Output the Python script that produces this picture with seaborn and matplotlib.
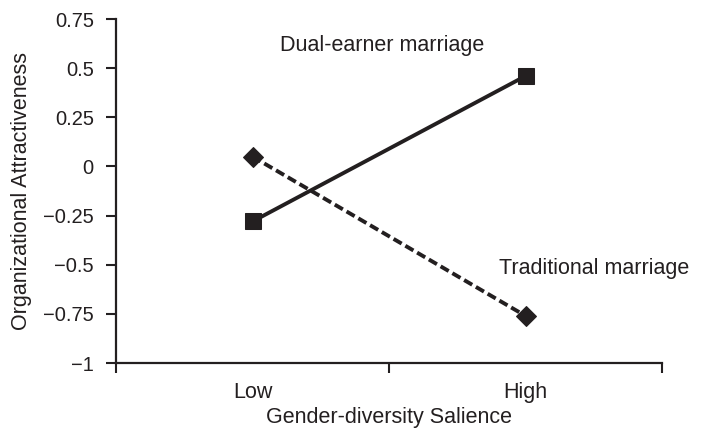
import matplotlib
matplotlib.use("Agg")
import matplotlib.pyplot as plt
import seaborn as sns
import pandas as pd
from matplotlib.ticker import FixedLocator

categories = ["Low", "High"]
dual_values = [-0.28, 0.46]
trad_values = [0.05, -0.76]
series_names = ["Dual-earner marriage", "Traditional marriage"]
y_ticks = [-1, -0.75, -0.5, -0.25, 0, 0.25, 0.5, 0.75]
y_tick_labels = ["\u22121", "\u22120.75", "\u22120.5", "\u22120.25", "0", "0.25", "0.5", "0.75"]

df = pd.DataFrame({
    "Salience": categories * 2,
    "Attractiveness": dual_values + trad_values,
    "Marriage": [series_names[0]] * 2 + [series_names[1]] * 2,
})

sns.set_theme(style="white")
plt.rcParams["font.family"] = ["Liberation Sans", "DejaVu Sans"]

INK = "#231f20"
fig = plt.figure(figsize=(7.03, 4.29), dpi=100)
ax = fig.add_axes([0.165, 0.1538, 0.7767, 0.8019])

sns.lineplot(data=df, x="Salience", y="Attractiveness", hue="Marriage", style="Marriage",
             palette={series_names[0]: INK, series_names[1]: INK},
             markers={series_names[0]: "s", series_names[1]: "D"},
             dashes={series_names[0]: "", series_names[1]: (2.4, 1.1)},
             markersize=11.5, linewidth=2.8, markeredgecolor=INK,
             legend=False, ax=ax, sort=False)
for ln in ax.lines:
    if ln.get_marker() == "D":
        ln.set_markersize(10.5)
    ln.set_clip_on(False)

ax.set_xlim(-0.5, 1.5)
ax.set_ylim(-1, 0.75)
ax.set_yticks(y_ticks)
ax.set_yticklabels(y_tick_labels)
ax.set_xticks([0, 1])
ax.set_xticklabels(categories)
ax.xaxis.set_minor_locator(FixedLocator([-0.5, 0.5, 1.5]))
ax.tick_params(axis="x", which="major", length=0, pad=14, labelsize=15.5, colors=INK)
ax.tick_params(axis="x", which="minor", length=7, width=1.5, direction="out", bottom=True, color=INK)
ax.tick_params(axis="y", which="major", length=7, width=1.5, direction="out", left=True, pad=9,
               labelsize=14.5, colors=INK)

for s in ["top", "right"]:
    ax.spines[s].set_visible(False)
for s in ["left", "bottom"]:
    ax.spines[s].set_color(INK)
    ax.spines[s].set_linewidth(1.6)

ax.set_xlabel("Gender-diversity Salience", fontsize=15.5, color=INK, labelpad=2.5)
ax.set_ylabel("Organizational Attractiveness", fontsize=15.5, color=INK, labelpad=8)

ax.text(0.474, 0.615, series_names[0], ha="center", va="center", fontsize=15.5, color=INK)
ax.text(1.251, -0.52, series_names[1], ha="center", va="center", fontsize=15.5, color=INK)

fig.savefig("out.png", dpi=100)
